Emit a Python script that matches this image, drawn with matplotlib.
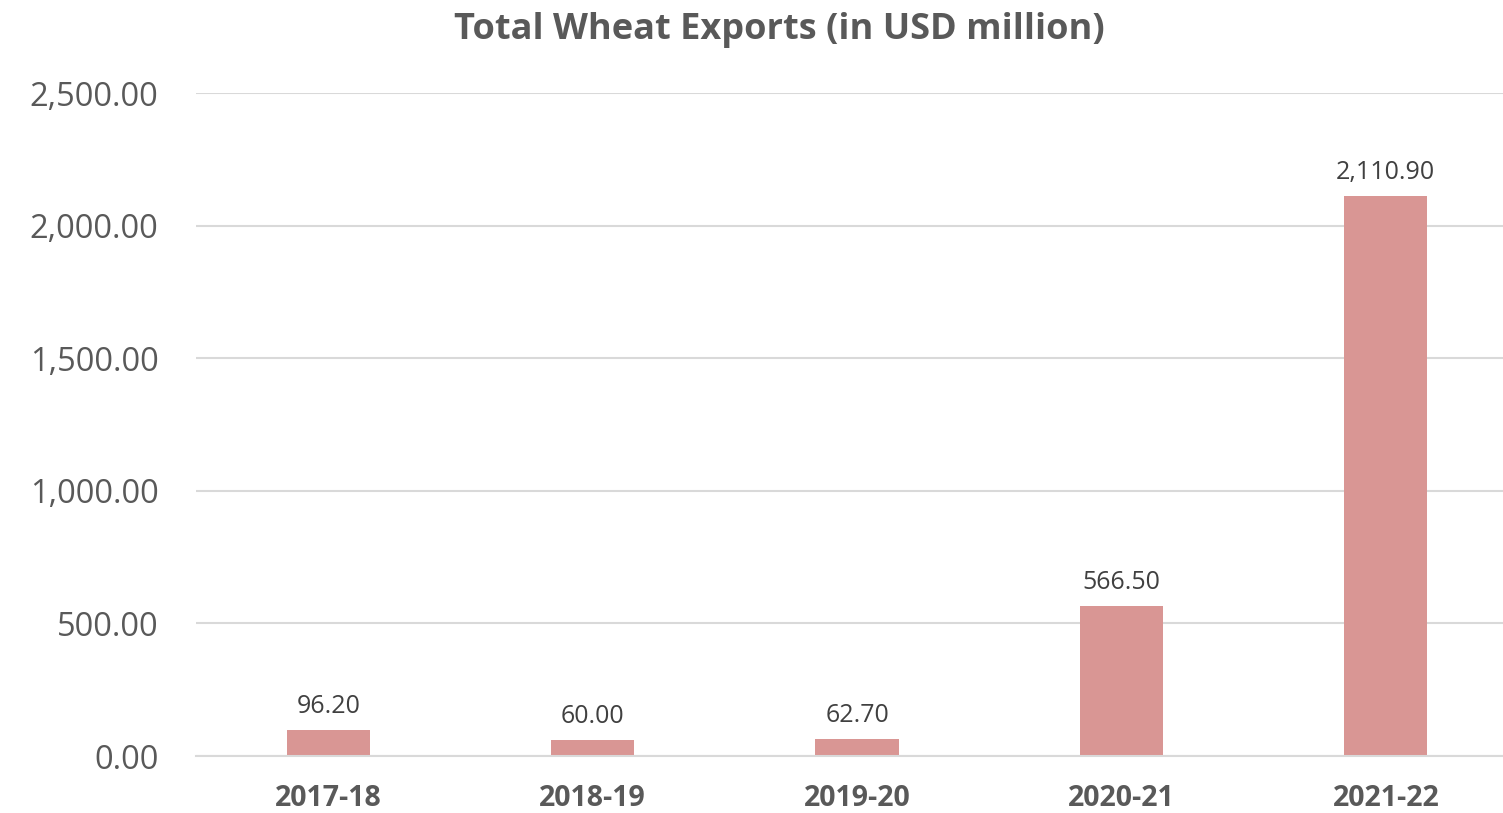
import matplotlib.pyplot as plt
from matplotlib.ticker import FuncFormatter

years = ['2017-18', '2018-19', '2019-20', '2020-21', '2021-22']
exports = [96.20, 60.00, 62.70, 566.50, 2110.90]
yticks = [0, 500, 1000, 1500, 2000, 2500]

plt.rcParams['font.family'] = ['Open Sans', 'DejaVu Sans']

fig = plt.figure(figsize=(15.03, 8.13), dpi=100)
# axes runs slightly past the right edge, the last gridline gets clipped there
ax = fig.add_axes([196 / 1503, (813 - 756) / 813, 1322 / 1503, 663 / 813])

x = range(len(years))
ax.bar(x, exports, width=0.315, color='#D99694', zorder=2)

for i, v in enumerate(exports):
    ax.annotate(f'{v:,.2f}', (i, v), xytext=(0, 8), textcoords='offset points',
                ha='center', va='bottom', fontsize=18, color='#404040')

ax.set_xlim(-0.5, 4.5)
ax.set_ylim(0, 2500)
ax.set_yticks(yticks)
ax.yaxis.set_major_formatter(FuncFormatter(lambda v, p: f'{v:,.2f}'))
ax.set_xticks(list(x))
ax.set_xticklabels(years, fontsize=20.5, fontweight='bold', color='#595959')
ax.tick_params(axis='y', labelsize=23.5, labelcolor='#595959', length=0, pad=27)
ax.tick_params(axis='x', length=0, pad=20)

ax.grid(axis='y', color='#D9D9D9', linewidth=1.5, zorder=0)
for s in ['top', 'right', 'left']:
    ax.spines[s].set_visible(False)
ax.spines['bottom'].set_color('#D9D9D9')
ax.spines['bottom'].set_linewidth(1.5)

fig.text(779 / 1503, 1 - 30 / 813, 'Total Wheat Exports (in USD million)', ha='center', va='center',
         fontsize=26, fontweight='bold', color='#595959')

fig.savefig('out.png', dpi=100, facecolor='white')
